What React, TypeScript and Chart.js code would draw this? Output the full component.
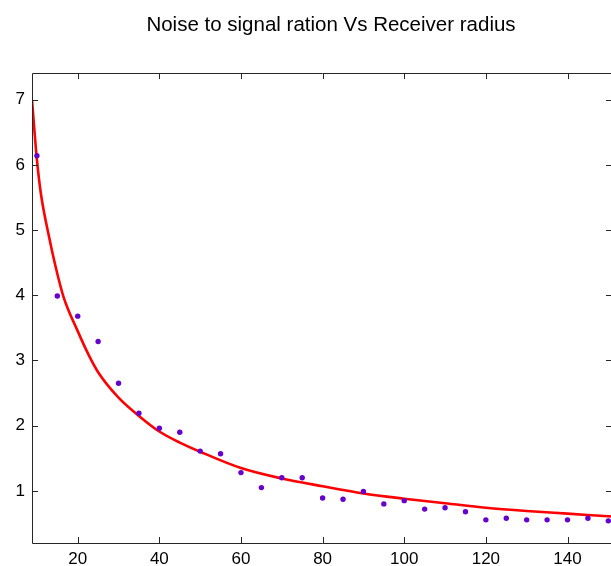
import React, { useEffect, useRef } from 'react';
import { Chart, registerables } from 'chart.js';

Chart.register(...registerables);

const chartTitle = 'Noise to signal ration Vs Receiver radius';

// measured points (receiver radius vs noise-to-signal ratio)
const radiusValues = [10, 15, 20, 25, 30, 35, 40, 45, 50, 55, 60, 65, 70, 75, 80, 85, 90, 95, 100, 105, 110, 115, 120, 125, 130, 135, 140, 145, 150];
const noiseValues = [6.14, 3.99, 3.68, 3.29, 2.65, 2.19, 1.96, 1.90, 1.61, 1.57, 1.28, 1.05, 1.20, 1.20, 0.89, 0.87, 0.99, 0.80, 0.85, 0.72, 0.74, 0.68, 0.555, 0.58, 0.555, 0.555, 0.555, 0.58, 0.54];

// fitted curve
const fitRadius = [8.8, 9.3, 10, 11, 12.9, 14.5, 16.5, 20, 22.8, 25, 30, 35, 40, 45, 50, 60, 70, 80, 90, 100, 110, 120, 130, 140, 150, 151];
const fitValues = [7.0, 6.6, 6.08, 5.55, 4.92, 4.46, 3.98, 3.45, 3.07, 2.82, 2.43, 2.15, 1.91, 1.74, 1.60, 1.35, 1.19, 1.07, 0.96, 0.88, 0.81, 0.74, 0.69, 0.65, 0.61, 0.606];

const xTickValues = [20, 40, 60, 80, 100, 120, 140];
const yTickValues = [1, 2, 3, 4, 5, 6, 7];

const X_MIN = 8.8;
const X_MAX = 150.9;
const Y_MIN = 0.2;
const Y_MAX = 7.41;

const FONT = '"Liberation Sans", Arial, Helvetica, sans-serif';

const boxPlugin = {
  id: 'matlabBox',
  afterDraw(chart: any) {
    const { ctx, chartArea } = chart;
    const { left, right, top, bottom } = chartArea;
    const xs = chart.scales.x;
    const ys = chart.scales.y;
    const tl = 6;
    ctx.save();
    ctx.strokeStyle = '#262626';
    ctx.lineWidth = 1;
    ctx.beginPath();
    ctx.rect(Math.round(left) + 0.5, Math.round(top) + 0.5, Math.round(right - left), Math.round(bottom - top));
    for (const v of xTickValues) {
      const px = Math.round(xs.getPixelForValue(v)) + 0.5;
      ctx.moveTo(px, bottom);
      ctx.lineTo(px, bottom - tl);
      ctx.moveTo(px, top);
      ctx.lineTo(px, top + tl);
    }
    for (const v of yTickValues) {
      const py = Math.round(ys.getPixelForValue(v)) + 0.5;
      ctx.moveTo(left, py);
      ctx.lineTo(left + tl, py);
      ctx.moveTo(right, py);
      ctx.lineTo(right - tl, py);
    }
    ctx.stroke();
    ctx.restore();
  },
};

const titlePlugin = {
  id: 'matlabTitle',
  afterDraw(chart: any) {
    const { ctx } = chart;
    ctx.save();
    ctx.fillStyle = '#000';
    ctx.font = `20.5px ${FONT}`;
    ctx.textAlign = 'center';
    ctx.textBaseline = 'alphabetic';
    ctx.fillText(chartTitle, 331, 31);
    ctx.restore();
  },
};

export default function App() {
  const ref = useRef<HTMLCanvasElement>(null);

  useEffect(() => {
    if (!ref.current) return;
    const chart = new Chart(ref.current, {
      type: 'scatter',
      data: {
        datasets: [
          {
            type: 'line',
            label: 'fit',
            data: fitRadius.map((x, i) => ({ x, y: fitValues[i] })),
            borderColor: '#ff0000',
            borderWidth: 2.6,
            pointRadius: 0,
            fill: false,
            cubicInterpolationMode: 'monotone',
            order: 2,
          } as any,
          {
            type: 'scatter',
            label: 'data',
            data: radiusValues.map((x, i) => ({ x, y: noiseValues[i] })),
            backgroundColor: '#6600cc',
            borderColor: '#6600cc',
            borderWidth: 0,
            pointRadius: 2.7,
            order: 1,
          } as any,
        ],
      },
      options: {
        animation: false,
        responsive: false,
        maintainAspectRatio: false,
        layout: { padding: { top: 73, right: 3, left: 0, bottom: 0 } },
        plugins: {
          legend: { display: false },
          title: { display: false },
          tooltip: { enabled: false },
        },
        scales: {
          x: {
            type: 'linear',
            min: X_MIN,
            max: X_MAX,
            grid: { display: false, drawTicks: false },
            border: { display: false },
            ticks: {
              color: '#000',
              font: { family: FONT, size: 17 },
              padding: 6,
              maxRotation: 0,
              autoSkip: false,
            },
            afterBuildTicks: (s: any) => {
              s.ticks = xTickValues.map((v) => ({ value: v }));
            },
            afterFit: (s: any) => {
              s.height = 23;
            },
          },
          y: {
            type: 'linear',
            min: Y_MIN,
            max: Y_MAX,
            grid: { display: false, drawTicks: false },
            border: { display: false },
            ticks: {
              color: '#000',
              font: { family: FONT, size: 17 },
              padding: 7,
              autoSkip: false,
            },
            afterBuildTicks: (s: any) => {
              s.ticks = yTickValues.map((v) => ({ value: v }));
            },
            afterFit: (s: any) => {
              s.width = 32;
            },
          },
        },
      } as any,
      plugins: [boxPlugin, titlePlugin],
    });
    return () => chart.destroy();
  }, []);

  return (
    <div style={{ position: 'fixed', left: 0, top: 0, width: 611, height: 566, overflow: 'hidden', background: '#fff' }}>
      <canvas ref={ref} width={616} height={566} style={{ display: 'block', width: 616, height: 566 }} />
    </div>
  );
}
